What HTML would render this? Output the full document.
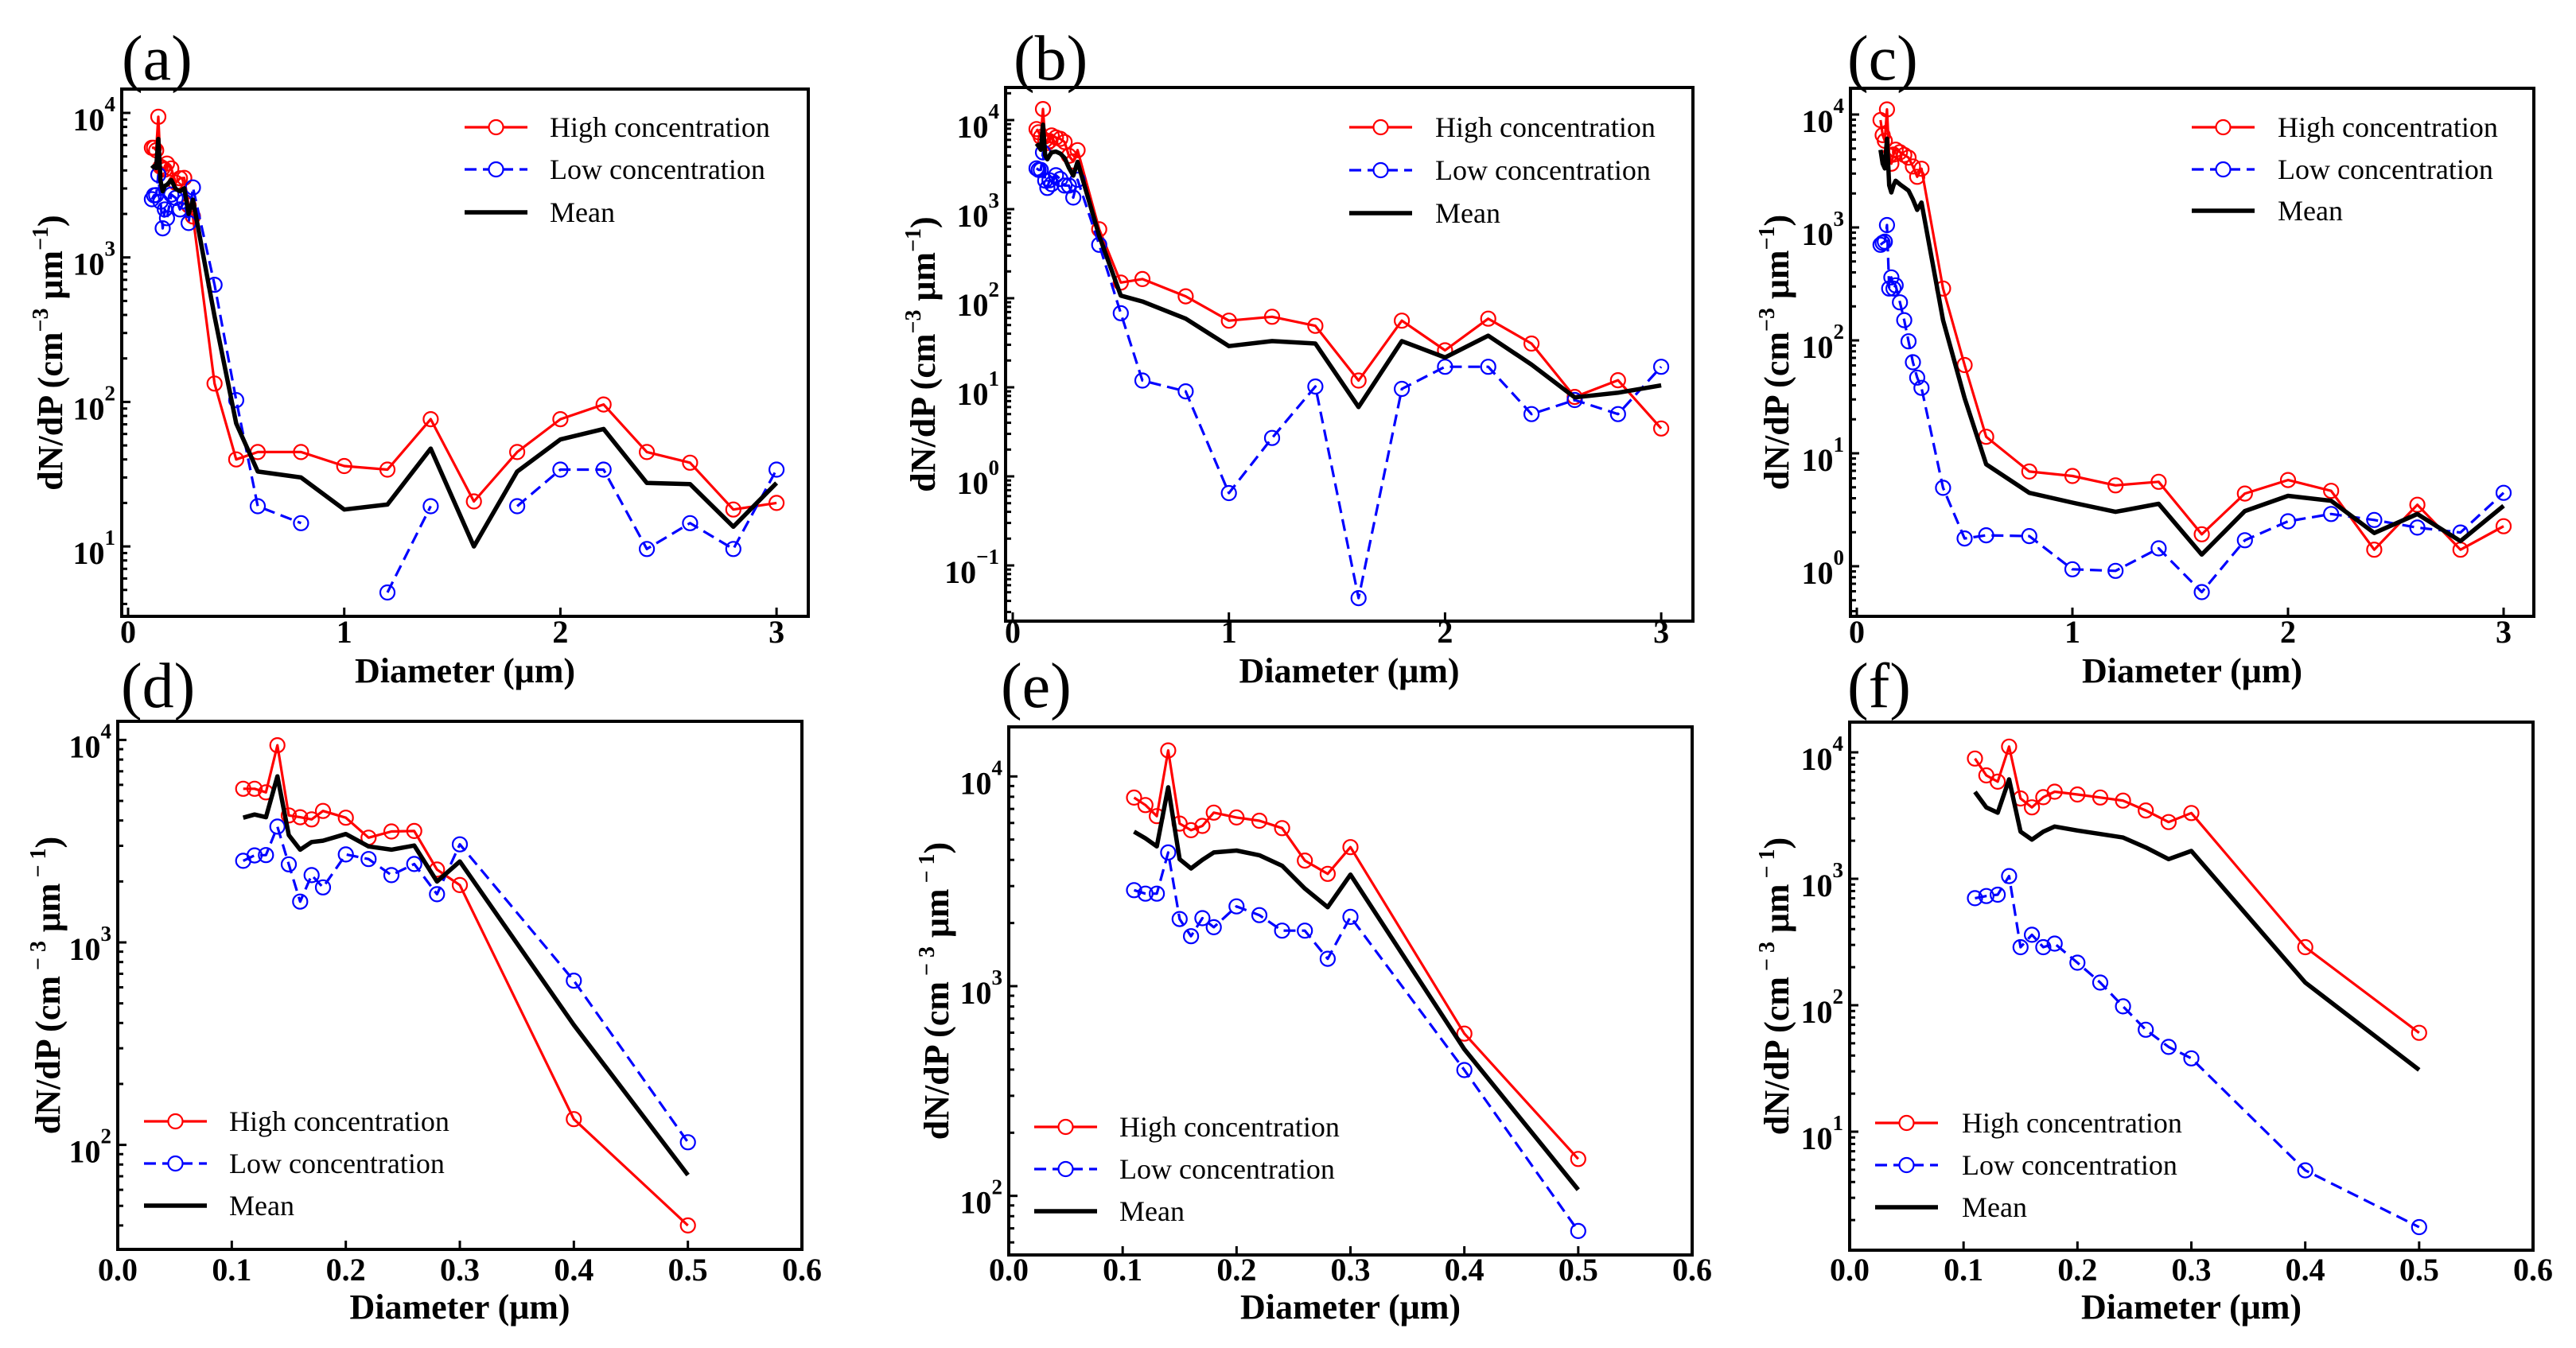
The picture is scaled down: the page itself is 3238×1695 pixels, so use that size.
<!DOCTYPE html>
<html><head><meta charset="utf-8"><style>
html,body{margin:0;padding:0;background:#fff}
svg{display:block}
text{font-family:"Liberation Serif","DejaVu Serif",serif}
</style></head><body>
<svg id="fig" width="3238" height="1695" viewBox="0 0 3238 1695" xmlns="http://www.w3.org/2000/svg"></svg>
<script>
// ---- data ----
const diameters = [0.11,0.12,0.13,0.14,0.15,0.16,0.17,0.18,0.20,0.22,0.24,0.26,0.28,0.30,0.40,0.50,0.6,0.8,1.0,1.2,1.4,1.6,1.8,2.0,2.2,2.4,2.6,2.8,3.0];
const aHigh = [5740,5740,5510,9410,4240,4150,4050,4460,4130,3290,3530,3550,2290,1920,134,40,45,45,36,34,76,20.5,45,76,96,45,38,18,20];
const aLow  = [2530,2690,2700,3730,2430,1590,2150,1870,2720,2580,2150,2440,1730,3050,647,103,19,14.5,null,4.8,19,null,19,34,34,9.6,14.5,9.6,34];
const aMean = [4130,4280,4150,6610,3390,2870,3130,3180,3430,2980,2870,3010,2000,2510,391,71,33,30,18,19.5,47.5,10,33,55,65,27.5,27,13.7,27.5];
const bHigh = [7930,7300,6470,13300,5960,5540,5810,6720,6370,6150,5670,3970,3430,4600,594,150,164,105,56,62,49,11.9,56,26,59,31,7.8,12,3.45];
const bLow  = [2870,2760,2760,4340,2090,1730,2110,1910,2400,2180,1840,1840,1350,2140,398,68,11.9,9,0.65,2.7,10.2,0.043,9.6,17,17,5,7.2,5,17];
const bMean = [5450,5070,4640,8870,4030,3640,4000,4340,4430,4210,3750,2920,2380,3400,500,107,92,59,29,33,31,6,33,21.6,38,18,7.7,8.7,10.5];
const cHigh = [8930,6570,5860,11100,4320,3670,4420,4880,4640,4390,4150,3470,2810,3310,288,60.5,14,6.9,6.3,5.2,5.6,1.92,4.4,5.8,4.65,1.4,3.5,1.4,2.26];
const cLow  = [702,730,748,1050,288,361,288,307,217,151,98,64,46.8,38,4.95,1.76,1.88,1.85,0.94,0.91,1.44,0.59,1.7,2.5,2.9,2.57,2.2,1.99,4.47];
const cMean = [4870,3670,3330,6110,2360,2040,2360,2590,2410,2260,2120,1770,1430,1660,151,30.8,8,4.47,3.66,3.03,3.57,1.27,3.08,4.2,3.8,1.97,2.9,1.67,3.43];
const xTicksWide = [0,1,2,3];
const xTickLabelsWide = ["0","1","2","3"];
const xTicksFine = [0.0,0.1,0.2,0.3,0.4,0.5,0.6];
const xTickLabelsFine = ["0.0","0.1","0.2","0.3","0.4","0.5","0.6"];
const seriesNames = ["High concentration","Low concentration","Mean"];

// ---- layout (geometry only) ----
const panels = [
 {id:'a',L:153,R:1016,T:112,B:775,x0px:161,xu:271.7,xMax:3.2,refExp:4,refPx:142,dec:181.7,eMin:1,eMax:4,data:[aHigh,aLow,aMean],fine:false,lab:[153,100],ylx:63,leg:{lx:584,tx:691,y:[160,213,267]}},
 {id:'b',L:1264,R:2128,T:110,B:781,x0px:1273,xu:271.7,xMax:3.2,refExp:4,refPx:151,dec:112,eMin:-1,eMax:4,data:[bHigh,bLow,bMean],fine:false,lab:[1274,100],ylx:1160,leg:{lx:1696,tx:1804,y:[160,214,268]}},
 {id:'c',L:2326,R:3185,T:111,B:775,x0px:2334,xu:271,xMax:3.2,refExp:4,refPx:144,dec:142,eMin:0,eMax:4,data:[cHigh,cLow,cMean],fine:false,lab:[2322,100],ylx:2233,leg:{lx:2755,tx:2863,y:[160,213,265]}},
 {id:'d',L:148,R:1008,T:907,B:1571,x0px:148,xu:(1008-148)/0.6,xMax:0.5,refExp:3,refPx:1185,dec:254.6,eMin:2,eMax:4,data:[aHigh,aLow,aMean],fine:true,lab:[152,889],ylx:60,leg:{lx:181,tx:288,y:[1410,1463,1516]}},
 {id:'e',L:1268,R:2127,T:914,B:1578,x0px:1268,xu:(2127-1268)/0.6,xMax:0.5,refExp:3,refPx:1240,dec:263.7,eMin:2,eMax:4,data:[bHigh,bLow,bMean],fine:true,lab:[1258,889],ylx:1177,leg:{lx:1300,tx:1407,y:[1417,1470,1523]}},
 {id:'f',L:2325,R:3184,T:908,B:1572,x0px:2325,xu:(3184-2325)/0.6,xMax:0.5,refExp:4,refPx:946,dec:159,eMin:1,eMax:4,data:[cHigh,cLow,cMean],fine:true,lab:[2322,889],ylx:2233,leg:{lx:2357,tx:2466,y:[1412,1465,1518]}}
];
const colors=['#ff0000','#0000ff','#000000'];
const NS='http://www.w3.org/2000/svg';
const svg=document.getElementById('fig');
function mk(tag,attrs,parent){const e=document.createElementNS(NS,tag);for(const k in attrs)e.setAttribute(k,attrs[k]);(parent||svg).appendChild(e);return e;}

panels.forEach(p=>{
  const g=mk('g',{});
  
  
  const xs=v=>p.x0px+v*p.xu;
  const ys=v=>p.refPx-(Math.log10(v)-p.refExp)*p.dec;
  // panel label
  const pl=mk('text',{x:p.lab[0],y:p.lab[1],'font-size':80},g);
  pl.textContent='('+p.id+')';
  
  
  // clip
  const cp=mk('clipPath',{id:'clip'+p.id},g);
  mk('rect',{x:p.L,y:p.T,width:p.R-p.L,height:p.B-p.T},cp);
  // series
  const sg=mk('g',{'clip-path':'url(#clip'+p.id+')'},g);
  p.data.forEach((arr,si)=>{
    let d='',pen=false;const pts=[];
    diameters.forEach((x,i)=>{
      if(x>p.xMax+1e-9)return;
      const v=arr[i];
      if(v===null){pen=false;return;}
      const X=xs(x).toFixed(1),Y=ys(v).toFixed(1);
      d+=(pen?'L':'M')+X+' '+Y+' ';pen=true;pts.push([X,Y]);
    });
    const path=mk('path',{d:d,fill:'none',stroke:colors[si],'stroke-width':si==2?5.5:3.2,'stroke-dasharray':si==1?'15,8':'none','stroke-linejoin':'round'},sg);
    
    
    if(si<2)pts.forEach(q=>{
      const c=mk('circle',{cx:q[0],cy:q[1],r:9,fill:'none',stroke:colors[si],'stroke-width':2.2},sg);
      
      
    });
  });
  // frame
  const fr=mk('rect',{x:p.L,y:p.T,width:p.R-p.L,height:p.B-p.T,fill:'none',stroke:'#000','stroke-width':4},g);
  
  
  // x ticks
  const xt=p.fine?xTicksFine:xTicksWide, xl=p.fine?xTickLabelsFine:xTickLabelsWide;
  const tickY=p.fine?1610:808;
  xt.forEach((t,i)=>{
    const X=xs(t);
    mk('line',{x1:X,x2:X,y1:p.B,y2:p.B-11,stroke:'#000','stroke-width':3},g);
    const tx=mk('text',{x:X,y:tickY,'font-size':40,'font-weight':'bold','text-anchor':'middle'},g);
    tx.textContent=xl[i];
    
    
  });
  // y ticks
  for(let e=p.eMin-1;e<=p.eMax+1;e++){
    for(let k=1;k<10;k++){
      const v=k*Math.pow(10,e);const Y=ys(v);
      if(Y<p.T+2||Y>p.B-2)continue;
      mk('line',{x1:p.L,x2:p.L+(k==1?11:7),y1:Y,y2:Y,stroke:'#000','stroke-width':3},g);
      if(k==1){
        const tx=mk('text',{x:p.L-8,y:Y+22,'font-size':40,'font-weight':'bold','text-anchor':'end'},g);
        
        
        const a=mk('tspan',{},tx);a.textContent='10';
        const b=mk('tspan',{'font-size':27,dy:-24},tx);b.textContent=(e<0?'\u2212':'')+Math.abs(e);
      }
    }
  }
  // axis titles
  const xtl=mk('text',{x:(p.L+p.R)/2,y:p.fine?1658:858,'font-size':44,'font-weight':'bold','text-anchor':'middle'},g);
  xtl.textContent='Diameter (\u03bcm)';
  
  
  const cy=(p.T+p.B)/2;
  const ytl=mk('text',{x:p.ylx,y:cy,'font-size':44,'font-weight':'bold','text-anchor':'middle',transform:'rotate(-90 '+p.ylx+' '+cy+')',dy:15},g);
  
  
  const t1=mk('tspan',{},ytl);t1.textContent='dN/dP (cm';
  const t2=mk('tspan',{'font-size':28,dy:-18},ytl);t2.textContent=p.fine?' \u2212 3':'\u22123';
  const t3=mk('tspan',{dy:18},ytl);t3.textContent=' \u03bcm';
  const t4=mk('tspan',{'font-size':28,dy:-18},ytl);t4.textContent=p.fine?' \u2212 1':'\u22121';
  const t5=mk('tspan',{dy:18},ytl);t5.textContent=')';
  // legend
  const lg=mk('g',{},g);
  
  
  seriesNames.forEach((nm,si)=>{
    const Y=p.leg.y[si];
    const en=mk('g',{},lg);
    
    
    mk('line',{x1:p.leg.lx,x2:p.leg.lx+79,y1:Y,y2:Y,stroke:colors[si],'stroke-width':si==2?5.5:3.2,'stroke-dasharray':si==1?'15,8':'none'},en);
    if(si<2)mk('circle',{cx:p.leg.lx+39.5,cy:Y,r:9,fill:'#fff',stroke:colors[si],'stroke-width':2.2},en);
    const tx=mk('text',{x:p.leg.tx,y:Y+12,'font-size':36},en);
    tx.textContent=nm;
  });
});
</script>
</body></html>
